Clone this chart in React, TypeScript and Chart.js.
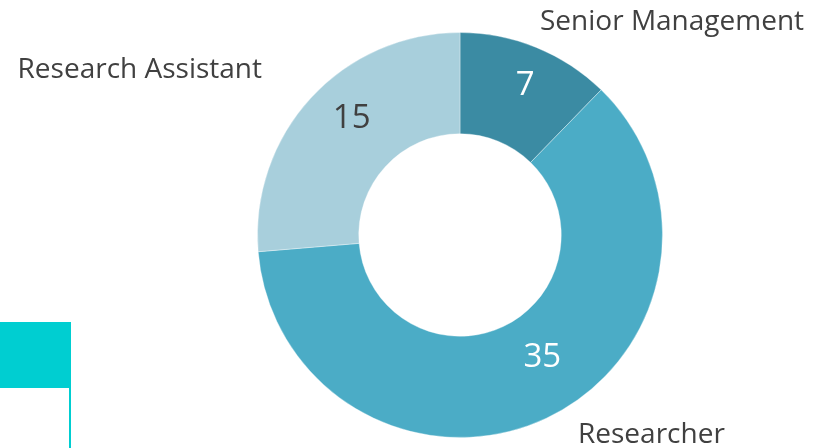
import React, { useEffect, useRef } from "react";
import { Chart, registerables } from "chart.js";

Chart.register(...registerables);

const categories = ["Senior Management", "Researcher", "Research Assistant"];
const values = [7, 35, 15];
const sliceColors = ["#3B8BA3", "#4BACC6", "#A8CFDC"];
const valueColors = ["#FFFFFF", "#FFFFFF", "#404040"];
// label placement within each slice: fraction along the arc angle, fraction across the ring
const valueAngleFrac = [0.53, 0.46, 0.55];
const valueRadiusFrac = [0.62, 0.45, 0.58];
// category label offsets from chart centre (x, baseline y) and alignment
const catOffsetX = [80, 118, -198];
const catOffsetY = [-205, 208, -157];
const catAlign: CanvasTextAlign[] = ["left", "left", "right"];

const FONT = '"Open Sans", "Noto Sans", sans-serif';

const labelPlugin = {
  id: "sliceLabels",
  afterDatasetsDraw(chart: any) {
    const ctx = chart.ctx as CanvasRenderingContext2D;
    const meta = chart.getDatasetMeta(0);
    ctx.save();
    meta.data.forEach((arc: any, i: number) => {
      const p = arc.getProps(["x", "y", "startAngle", "endAngle", "innerRadius", "outerRadius"], true);
      const a = p.startAngle + (p.endAngle - p.startAngle) * valueAngleFrac[i];
      const r = p.innerRadius + (p.outerRadius - p.innerRadius) * valueRadiusFrac[i];
      const x = p.x + Math.cos(a) * r;
      const y = p.y + Math.sin(a) * r;
      ctx.font = `33px ${FONT}`;
      ctx.fillStyle = valueColors[i];
      ctx.textAlign = "center";
      ctx.textBaseline = "middle";
      ctx.fillText(String(values[i]), x, y + 1);
      ctx.font = `28px ${FONT}`;
      ctx.fillStyle = "#404040";
      ctx.textAlign = catAlign[i];
      ctx.textBaseline = "alphabetic";
      ctx.fillText(categories[i], p.x + catOffsetX[i], p.y + catOffsetY[i]);
    });
    ctx.restore();
  },
};

function DoughnutChart() {
  const ref = useRef<HTMLCanvasElement>(null);
  useEffect(() => {
    if (!ref.current) return;
    const chart = new Chart(ref.current, {
      type: "doughnut",
      data: {
        labels: categories,
        datasets: [
          {
            data: values,
            backgroundColor: sliceColors,
            borderColor: "rgba(255,255,255,0.35)",
            borderWidth: 1,
          },
        ],
      },
      options: {
        responsive: false,
        animation: false,
        cutout: "50%",
        layout: { padding: { left: 257, right: 161, top: 32, bottom: 10 } },
        plugins: { legend: { display: false }, tooltip: { enabled: false } },
      },
      plugins: [labelPlugin],
    });
    return () => chart.destroy();
  }, []);
  return <canvas ref={ref} width={824} height={448} style={{ position: "absolute", left: 0, top: 0 }} />;
}

export default function App() {
  return (
    <div style={{ position: "fixed", left: 0, top: 0, width: 824, height: 448, background: "#FFFFFF", overflow: "hidden" }}>
      <div style={{ position: "absolute", left: 0, top: 322, width: 71, height: 66, background: "#00CED1" }} />
      <div style={{ position: "absolute", left: 69, top: 388, width: 2, height: 60, background: "#00CED1" }} />
      <DoughnutChart />
    </div>
  );
}
